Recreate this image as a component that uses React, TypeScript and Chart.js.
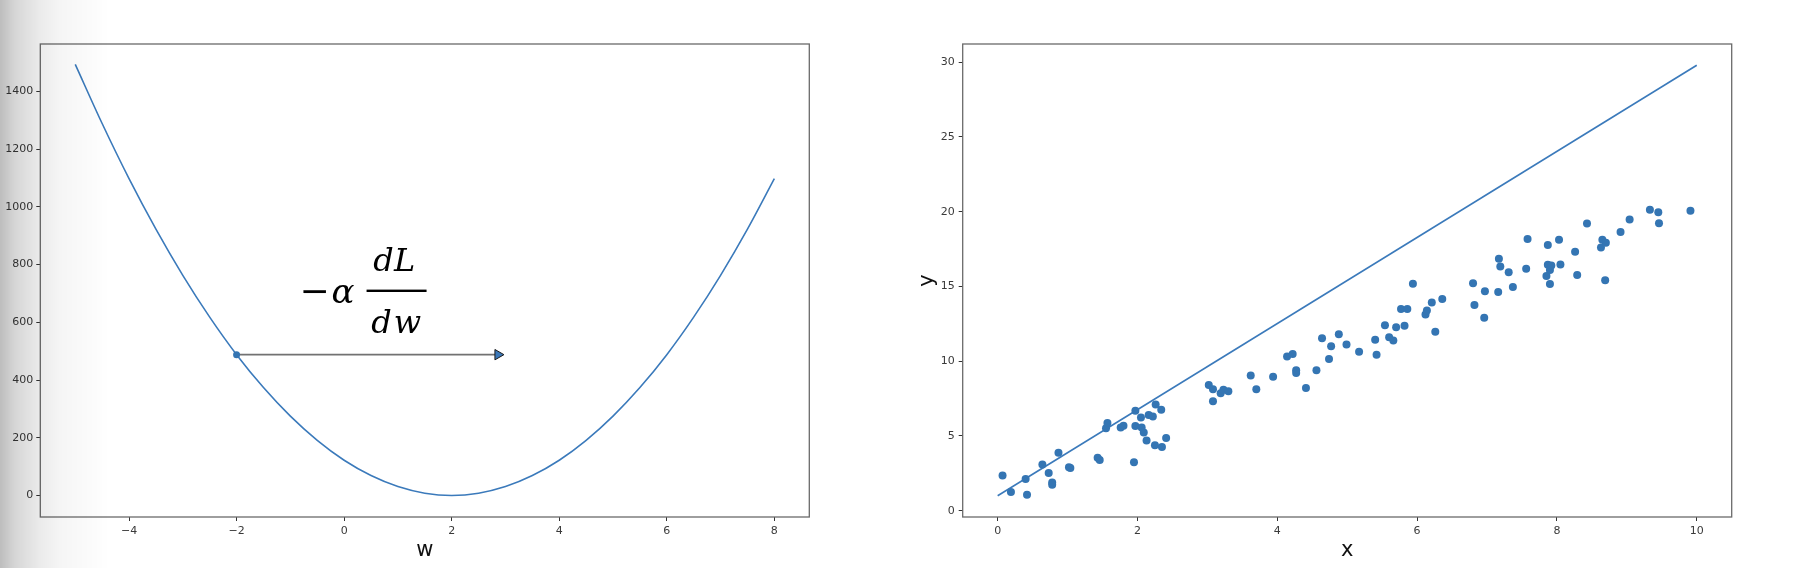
import { useEffect, useRef } from "react";
import { Chart, registerables } from "chart.js";

Chart.register(...registerables);

// ---------- left panel: loss curve ----------
const lossW = [-5, -4.5, -4, -3.5, -3, -2.5, -2, -1.5, -1, -0.5, 0, 0.5, 1, 1.5, 2, 2.5, 3, 3.5, 4, 4.5, 5, 5.5, 6, 6.5, 7, 7.5, 8];
const lossValues = [1494, 1289, 1098, 923, 763, 618, 488, 374, 275, 191, 122, 69, 31, 8, 0, 8, 31, 69, 122, 191, 275, 374, 488, 618, 763, 923, 1098];
const lossXTicks = [-4, -2, 0, 2, 4, 6, 8];
const lossYTicks = [0, 200, 400, 600, 800, 1000, 1200, 1400];
const stepStart = [-2, 488];
const stepEnd = [2.86, 488];

// ---------- right panel: scatter + fitted line ----------
const sampleX = [
  0.07, 0.19, 0.40, 0.42, 0.64, 0.73, 0.78, 0.78, 0.87, 1.02,
  1.04, 1.43, 1.46, 1.55, 1.57, 1.76, 1.80, 1.95, 1.97, 1.97,
  2.05, 2.06, 2.09, 2.13, 2.16, 2.22, 2.26, 2.25, 2.34, 2.35,
  2.41, 3.02, 3.08, 3.08, 3.19, 3.23, 3.30, 3.62, 3.70, 3.94,
  4.14, 4.22, 4.27, 4.27, 4.41, 4.56, 4.64, 4.74, 4.77, 4.88,
  4.99, 5.17, 5.40, 5.42, 5.54, 5.60, 5.66, 5.70, 5.77, 5.82,
  5.86, 5.94, 6.12, 6.14, 6.21, 6.26, 6.36, 6.80, 6.82, 6.96,
  6.97, 7.16, 7.17, 7.19, 7.31, 7.37, 7.56, 7.58, 7.85, 7.87,
  7.87, 7.90, 7.90, 7.92, 8.03, 8.05, 8.26, 8.29, 8.43, 8.63,
  8.65, 8.70, 8.69, 8.91, 9.04, 9.33, 9.45, 9.46, 9.91,
];
const sampleY = [
  2.35, 1.26, 2.13, 1.07, 3.10, 2.52, 1.89, 1.74, 3.88, 2.91,
  2.86, 3.54, 3.39, 5.52, 5.86, 5.57, 5.69, 3.25, 6.69, 5.67,
  6.23, 5.57, 5.23, 4.70, 6.40, 6.30, 7.10, 4.38, 6.76, 4.26,
  4.87, 8.41, 8.12, 7.32, 7.85, 8.09, 7.99, 9.04, 8.12, 8.96,
  10.32, 10.49, 9.40, 9.21, 8.21, 9.40, 11.53, 10.15, 11.00, 11.81,
  11.12, 10.63, 11.43, 10.44, 12.40, 11.60, 11.39, 12.28, 13.49, 12.38,
  13.49, 15.19, 13.13, 13.40, 13.93, 11.97, 14.17, 15.21, 13.76, 12.91,
  14.68, 14.63, 16.86, 16.33, 15.96, 14.97, 16.18, 18.17, 15.70, 17.78,
  16.45, 16.11, 15.16, 16.40, 18.12, 16.47, 17.32, 15.77, 19.21, 17.61,
  18.12, 17.93, 15.41, 18.65, 19.48, 20.13, 19.96, 19.23, 20.06,
];
const fitX = [0, 10];
const fitY = [1.0, 29.8];
const fitXTicks = [0, 2, 4, 6, 8, 10];
const fitYTicks = [0, 5, 10, 15, 20, 25, 30];

const BLUE = "#3475b3";
const LINE_BLUE = "#3b7abb";
const TICK_FONT = { family: "'DejaVu Sans', sans-serif", size: 11 };
const TITLE_FONT = { family: "'DejaVu Sans', sans-serif", size: 21, lineHeight: 1.2 };
const TICK_COLOR = "#3a3a3a";

const fmt = (v: number) => String(v).replace("-", "\u2212");

const framePlugin = {
  id: "frame",
  afterDraw(chart: any) {
    const { ctx, chartArea: a } = chart;
    ctx.save();
    ctx.strokeStyle = "#6a6a6a";
    ctx.lineWidth = 1.3;
    ctx.strokeRect(a.left, a.top, a.right - a.left, a.bottom - a.top);
    ctx.restore();
  },
};

const formulaPlugin = {
  id: "formula",
  afterDraw(chart: any) {
    const { ctx, scales } = chart;
    const cx = scales.x.getPixelForValue(0.975);
    const by = scales.y.getPixelForValue(710);
    ctx.save();
    ctx.fillStyle = "#000";
    ctx.fillRect(cx - 30, by - 1, 60, 2.4);
    ctx.textAlign = "center";
    ctx.textBaseline = "alphabetic";
    ctx.font = "italic 32px 'DejaVu Serif', serif";
    ctx.fillText("d", cx - 13, by - 20);
    ctx.fillText("L", cx + 8, by - 20);
    ctx.fillText("d", cx - 15, by + 42);
    ctx.fillText("w", cx + 11, by + 42);
    ctx.font = "italic 34px 'DejaVu Serif', serif";
    ctx.fillText("\u03b1", cx - 53.5, by + 12.6);
    ctx.font = "36px 'DejaVu Serif', serif";
    ctx.fillText("\u2212", cx - 82, by + 12);
    ctx.restore();
  },
};

function axisCommon(ticks: number[], pad: number) {
  return {
    type: "linear" as const,
    afterBuildTicks: (s: any) => {
      s.ticks = ticks.map((v) => ({ value: v }));
    },
    ticks: {
      font: TICK_FONT,
      color: TICK_COLOR,
      padding: pad,
      autoSkip: false,
      maxRotation: 0,
      callback: (v: any) => fmt(Number(v)),
    },
    grid: {
      drawOnChartArea: false,
      drawTicks: true,
      tickLength: 4,
      tickColor: "#333",
      tickWidth: 1,
    },
    border: { display: false },
  };
}

function LossChart() {
  const ref = useRef<HTMLCanvasElement | null>(null);
  useEffect(() => {
    if (!ref.current) return;
    const chart = new Chart(ref.current, {
      type: "scatter",
      data: {
        datasets: [
          {
            type: "scatter",
            data: [{ x: stepEnd[0], y: stepEnd[1] }],
            pointStyle: "triangle",
            rotation: 90,
            pointRadius: 6,
            backgroundColor: "#3b78b8",
            borderColor: "#1a1a1a",
            borderWidth: 1,
          },
          {
            type: "scatter",
            data: [{ x: stepStart[0], y: stepStart[1] }],
            pointRadius: 3.5,
            backgroundColor: BLUE,
            borderWidth: 0,
          },
          {
            type: "line",
            data: [
              { x: stepStart[0], y: stepStart[1] },
              { x: stepEnd[0], y: stepEnd[1] },
            ],
            borderColor: "#727272",
            borderWidth: 1.6,
            pointRadius: 0,
            fill: false,
          },
          {
            type: "line",
            data: lossW.map((w, i) => ({ x: w, y: lossValues[i] })),
            borderColor: LINE_BLUE,
            borderWidth: 1.6,
            pointRadius: 0,
            cubicInterpolationMode: "monotone",
            fill: false,
          },
        ],
      } as any,
      options: {
        animation: false,
        responsive: false,
        events: [],
        layout: { padding: { left: 0, top: 44, right: 70.7, bottom: 0 } },
        plugins: { legend: { display: false }, tooltip: { enabled: false } },
        scales: {
          x: {
            ...axisCommon(lossXTicks, 4),
            min: -5.65,
            max: 8.65,
            afterFit: (s: any) => {
              s.height = 51;
            },
            title: {
              display: true,
              text: "w",
              font: TITLE_FONT,
              color: "#111",
              padding: { top: 0, bottom: 4.5 },
            },
          },
          y: {
            ...axisCommon(lossYTicks, 3),
            min: -74.5,
            max: 1564.5,
            afterFit: (s: any) => {
              s.width = 40.3;
            },
          },
        },
      } as any,
      plugins: [framePlugin, formulaPlugin],
    });
    return () => chart.destroy();
  }, []);
  return (
    <canvas
      ref={ref}
      width={880}
      height={568}
      style={{ position: "absolute", left: 0, top: 0, width: 880, height: 568 }}
    />
  );
}

function FitChart() {
  const ref = useRef<HTMLCanvasElement | null>(null);
  useEffect(() => {
    if (!ref.current) return;
    const chart = new Chart(ref.current, {
      type: "scatter",
      data: {
        datasets: [
          {
            type: "scatter",
            data: sampleX.map((x, i) => ({ x, y: sampleY[i] })),
            pointRadius: 4,
            backgroundColor: BLUE,
            borderWidth: 0,
          },
          {
            type: "line",
            data: fitX.map((x, i) => ({ x, y: fitY[i] })),
            borderColor: LINE_BLUE,
            borderWidth: 1.6,
            pointRadius: 0,
            fill: false,
          },
        ],
      } as any,
      options: {
        animation: false,
        responsive: false,
        events: [],
        layout: { padding: { left: 0, top: 44, right: 70.3, bottom: 0 } },
        plugins: { legend: { display: false }, tooltip: { enabled: false } },
        scales: {
          x: {
            ...axisCommon(fitXTicks, 4),
            min: -0.5,
            max: 10.5,
            afterFit: (s: any) => {
              s.height = 51;
            },
            title: {
              display: true,
              text: "x",
              font: TITLE_FONT,
              color: "#111",
              padding: { top: 0, bottom: 4.5 },
            },
          },
          y: {
            ...axisCommon(fitYTicks, 4),
            min: -0.42,
            max: 31.22,
            afterFit: (s: any) => {
              s.width = 82.7;
            },
            title: {
              display: true,
              text: "y",
              font: TITLE_FONT,
              color: "#111",
              padding: { top: 35, bottom: 0 },
            },
          },
        },
      } as any,
      plugins: [framePlugin],
    });
    return () => chart.destroy();
  }, []);
  return (
    <canvas
      ref={ref}
      width={922}
      height={568}
      style={{ position: "absolute", left: 880, top: 0, width: 922, height: 568 }}
    />
  );
}

export default function App() {
  return (
    <div
      style={{
        position: "absolute",
        left: 0,
        top: 0,
        width: 1802,
        height: 568,
        background: "#fff",
        overflow: "hidden",
      }}
    >
      <LossChart />
      <FitChart />
      <div
        style={{
          position: "absolute",
          left: 0,
          top: 0,
          width: 120,
          height: 568,
          pointerEvents: "none",
          background:
            "linear-gradient(to right, rgba(0,0,0,0.26) 0px, rgba(0,0,0,0.16) 15px, rgba(0,0,0,0.08) 40px, rgba(0,0,0,0.04) 60px, rgba(0,0,0,0) 110px)",
        }}
      />
    </div>
  );
}
